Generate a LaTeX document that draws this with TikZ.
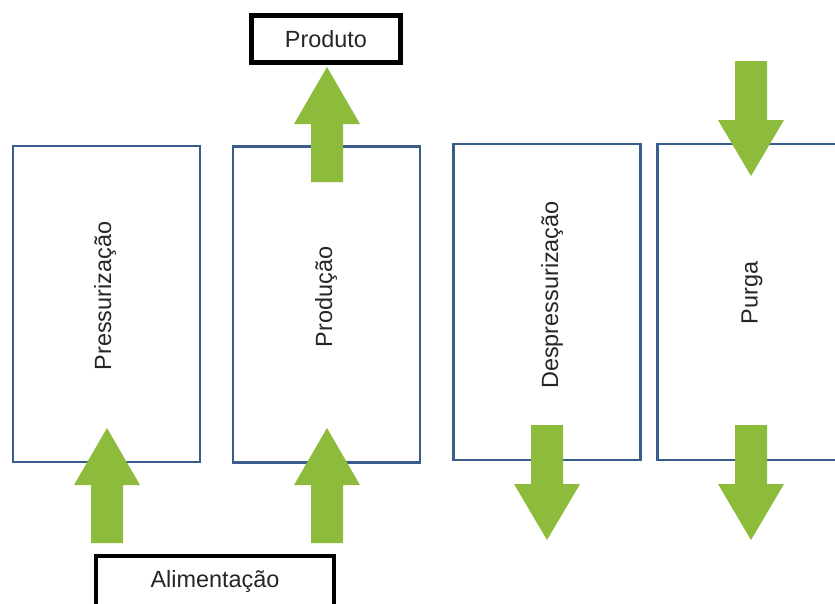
\documentclass[tikz,border=0pt]{standalone}
\usepackage{fontspec}
\setmainfont{Liberation Sans}
\definecolor{stageblue}{RGB}{56,93,138}
\definecolor{flowgreen}{RGB}{141,187,59}
\tikzset{
    stage/.style={draw=stageblue, line width=2.5pt, minimum width=5.61cm, minimum height=9.48cm, inner sep=0pt},
    stagetext/.style={rotate=90, font=\fontsize{20}{24}\selectfont, text=black!85},
    stream/.style={draw=black, line width=4.2pt, font=\fontsize{20}{24}\selectfont, text=black!85, inner sep=0pt},
}
% block arrows: #1 = centre x, #2 = tip y
\newcommand{\greenup}[2]{\fill[flowgreen] (#1,#2) -- ++(33,57) -- ++(-17,0) -- ++(0,58) -- ++(-32,0) -- ++(0,-58) -- ++(-17,0) -- cycle;}
\newcommand{\greendown}[2]{\fill[flowgreen] (#1,#2) -- ++(33,-56) -- ++(-17,0) -- ++(0,-59) -- ++(-32,0) -- ++(0,59) -- ++(-17,0) -- cycle;}
\begin{document}
\begin{tikzpicture}[x=0.03cm, y=-0.03cm]
        \useasboundingbox (0,0) rectangle (835,603);
        \fill[white] (0,0) rectangle (835,603);
        \clip (0,0) rectangle (835,603);
        % the four stages
        \node[stage] (pres) at (106.5,304) {};
        \node[stage] (prod) at (326.5,304.5) {};
        \node[stage] (desp) at (547,302) {};
        \node[stage] (purga) at (751,302) {};
        \node[stagetext] (presT) at (105,296) {Pressurização};
        \node[stagetext] (prodT) at (326,297) {Produção};
        \node[stagetext] (despT) at (552,295) {Despressurização};
        \node[stagetext] (purgaT) at (752,293) {Purga};
        % flows
        \greenup{107}{428}
        \greenup{327}{428}
        \greenup{327}{67}
        \greendown{547}{540}
        \greendown{751}{540}
        \greendown{751}{176}
        \node[stream, minimum width=4.47cm, minimum height=1.41cm] (produto) at (326,39) {Produto};
        \node[stream, minimum width=7.14cm, minimum height=1.5cm] (alim) at (215,581) {Alimentação};
    \end{tikzpicture}
\end{document}
